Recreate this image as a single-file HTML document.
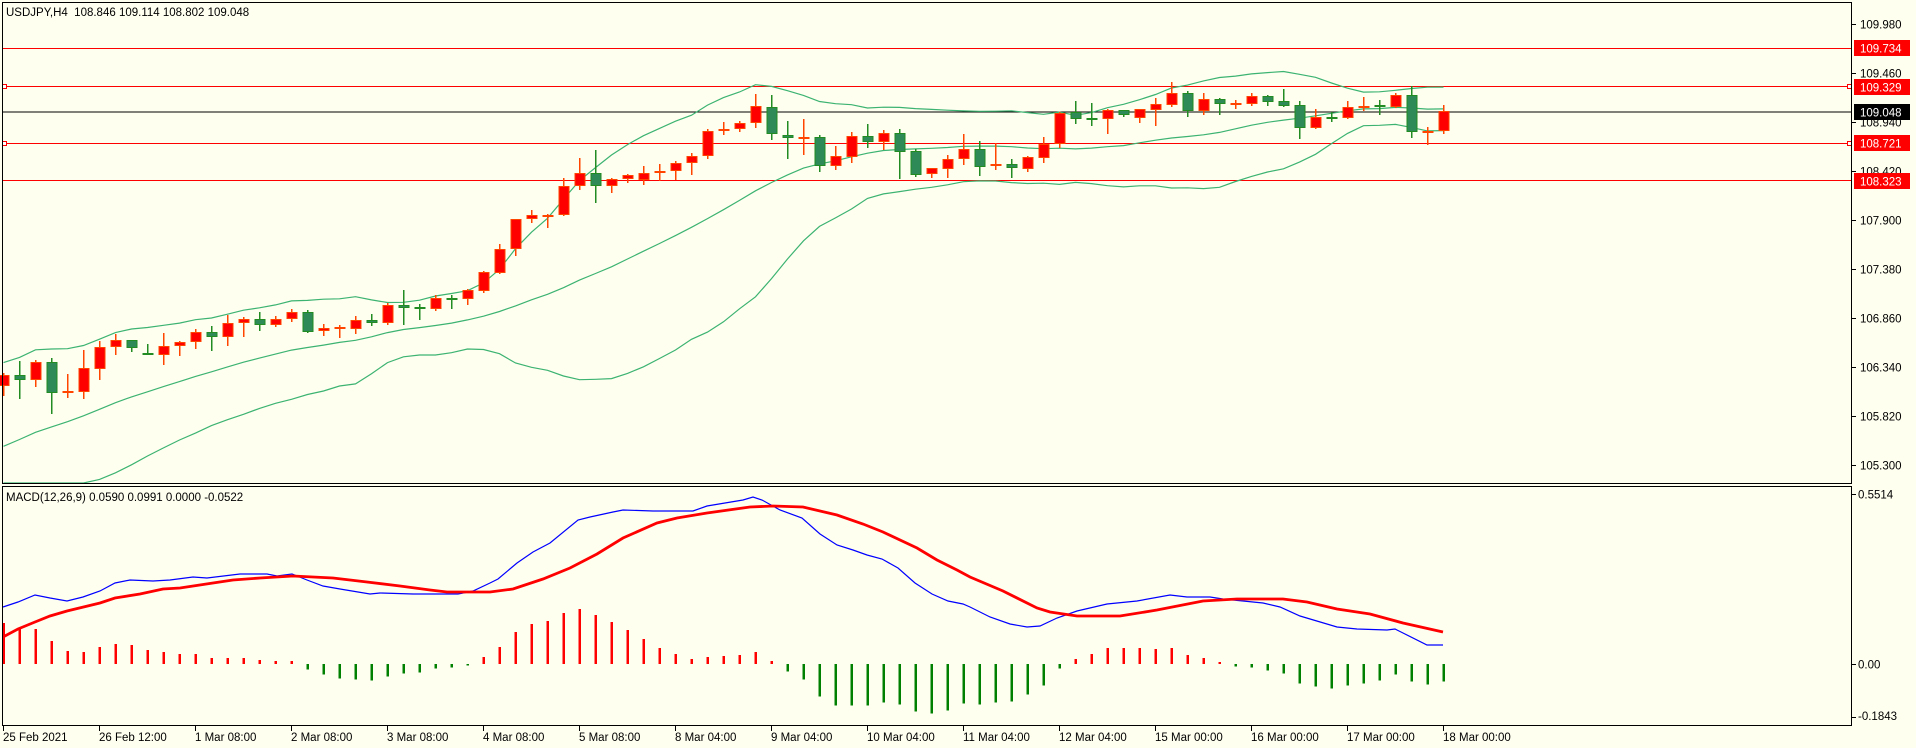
<!DOCTYPE html>
<html><head><meta charset="utf-8">
<style>
html,body{margin:0;padding:0;background:#FFFFF0;}
svg{display:block;}
text{font-family:"Liberation Sans",sans-serif;font-size:11.5px;fill:#000;}
</style></head>
<body>
<svg id="s" width="1916" height="748" xmlns="http://www.w3.org/2000/svg" shape-rendering="crispEdges">
<rect x="0" y="0" width="1916" height="748" fill="#FFFFF0"/>
<g id="hl">
<line x1="2" y1="48.5" x2="1852" y2="48.5" stroke="#FF0000" stroke-width="1.3"/>
<line x1="2" y1="86.5" x2="1852" y2="86.5" stroke="#FF0000" stroke-width="1.3"/>
<line x1="2" y1="112" x2="1852" y2="112" stroke="#000" stroke-width="1.3"/>
<line x1="2" y1="143.5" x2="1852" y2="143.5" stroke="#FF0000" stroke-width="1.3"/>
<line x1="2" y1="180.5" x2="1852" y2="180.5" stroke="#FF0000" stroke-width="1.3"/>
<rect x="2.5" y="84.5" width="4" height="4" fill="#fff" stroke="#FF0000"/>
<rect x="1847.5" y="84.5" width="4" height="4" fill="#fff" stroke="#FF0000"/>
<rect x="2.5" y="141.5" width="4" height="4" fill="#fff" stroke="#FF0000"/>
<rect x="1847.5" y="141.5" width="4" height="4" fill="#fff" stroke="#FF0000"/>
</g>
<g id="bb"></g>
<g id="cd"></g>
<g id="mc"></g>
<rect x="2.5" y="2.5" width="1849" height="481" fill="none" stroke="#000" stroke-width="1"/>
<rect x="2.5" y="486.5" width="1849" height="239" fill="none" stroke="#000" stroke-width="1"/>
<g stroke="#000">
<line x1="1852" y1="24.5" x2="1856" y2="24.5"/><line x1="1852" y1="73.5" x2="1856" y2="73.5"/>
<line x1="1852" y1="122.5" x2="1856" y2="122.5"/><line x1="1852" y1="171.5" x2="1856" y2="171.5"/>
<line x1="1852" y1="220.5" x2="1856" y2="220.5"/><line x1="1852" y1="269.5" x2="1856" y2="269.5"/>
<line x1="1852" y1="318.5" x2="1856" y2="318.5"/><line x1="1852" y1="367.5" x2="1856" y2="367.5"/>
<line x1="1852" y1="416.5" x2="1856" y2="416.5"/><line x1="1852" y1="465.5" x2="1856" y2="465.5"/>
<line x1="1852" y1="494.5" x2="1856" y2="494.5"/><line x1="1852" y1="664.5" x2="1856" y2="664.5"/>
<line x1="1852" y1="717.5" x2="1856" y2="717.5"/>
</g>
<g>
<text x="1860" y="28.5">109.980</text>
<text x="1860" y="77.5">109.460</text>
<text x="1860" y="126.5">108.940</text>
<text x="1860" y="175.5">108.420</text>
<text x="1860" y="224.5">107.900</text>
<text x="1860" y="273.5">107.380</text>
<text x="1860" y="322.5">106.860</text>
<text x="1860" y="371.5">106.340</text>
<text x="1860" y="420.5">105.820</text>
<text x="1860" y="469.5">105.300</text>
</g>
<rect x="1854" y="40" width="56" height="16" fill="#FF0000"/>
<text x="1860" y="52.5" style="fill:#fff">109.734</text>
<rect x="1854" y="79" width="56" height="16" fill="#FF0000"/>
<text x="1860" y="91.5" style="fill:#fff">109.329</text>
<rect x="1854" y="104" width="56" height="16" fill="#000"/>
<text x="1860" y="116.5" style="fill:#fff">109.048</text>
<rect x="1854" y="135" width="56" height="16" fill="#FF0000"/>
<text x="1860" y="147.5" style="fill:#fff">108.721</text>
<rect x="1854" y="173" width="56" height="16" fill="#FF0000"/>
<text x="1860" y="185.5" style="fill:#fff">108.323</text>
<text x="1858" y="498.5">0.5514</text>
<text x="1858" y="668.5">0.00</text>
<text x="1858" y="720">-0.1843</text>
<text x="6" y="16" xml:space="preserve">USDJPY,H4  108.846 109.114 108.802 109.048</text>
<text x="6" y="501">MACD(12,26,9) 0.0590 0.0991 0.0000 -0.0522</text>
<g id="tk" stroke="#000"></g>
<g>
<text x="3" y="741">25 Feb 2021</text>
<text x="99" y="741">26 Feb 12:00</text>
<text x="195" y="741">1 Mar 08:00</text>
<text x="291" y="741">2 Mar 08:00</text>
<text x="387" y="741">3 Mar 08:00</text>
<text x="483" y="741">4 Mar 08:00</text>
<text x="579" y="741">5 Mar 08:00</text>
<text x="675" y="741">8 Mar 04:00</text>
<text x="771" y="741">9 Mar 04:00</text>
<text x="867" y="741">10 Mar 04:00</text>
<text x="963" y="741">11 Mar 04:00</text>
<text x="1059" y="741">12 Mar 04:00</text>
<text x="1155" y="741">15 Mar 00:00</text>
<text x="1251" y="741">16 Mar 00:00</text>
<text x="1347" y="741">17 Mar 00:00</text>
<text x="1443" y="741">18 Mar 00:00</text>
</g>
</svg>
<script>
var NS="http://www.w3.org/2000/svg";
function el(p,t,a){var e=document.createElementNS(NS,t);for(var k in a)e.setAttribute(k,a[k]);p.appendChild(e);return e;}
var C=[
[373.3,375.3,386.3,395.7,1],[361,375.3,380.3,398.7,0],[360,362.3,380.3,386.7,1],[358,362.3,392.7,413.7,0],
[374,391,392.7,397.7,1],[350,368,391.7,398.7,1],[341,347.3,369.3,379.7,1],[334,340.3,347.3,354.7,1],
[340.3,340.3,348.3,351.7,0],[344,353,354.7,355.3,0],[333,346.3,354.7,364.7,1],[341.3,342.3,346.3,355.7,1],
[329,332.3,342.3,348.7,1],[326,332.3,337.3,350.7,0],[315,323.3,337.3,345.7,1],[317.3,319.3,323.3,336.7,1],
[312.3,319.3,324.7,330.7,0],[316.3,319.3,324.7,326.7,1],[309,312.3,319.3,322,1],[310,312.3,331.7,332.7,0],
[324.3,328.3,331.3,336,1],[325,327,328.7,337.7,1],[316,320.3,328.7,333.7,1],[314,320,322.7,326,0],
[302.7,305.3,322.7,325,1],[290,305.3,307.7,325,0],[304,307,308.7,320,0],[295.3,298.3,308.7,310.7,1],
[295,298,299.7,309,0],[289,290.3,299.3,305,1],[271,272.3,290.7,293,1],[244,249.3,273.3,274,1],
[219.3,219.3,249.3,255.7,1],[210,215.3,219.3,222.7,1],[214,214.7,216,227.7,1],[178,186.3,214.7,215.7,1],
[158,173.3,186.3,189.7,1],[150,173.3,186.3,202.7,0],[178.3,179.3,186.3,192.7,1],[174,175.3,179.3,182.7,1],
[166.3,173.3,180.3,185,1],[164,171.3,173.3,181.3,1],[161,163.3,171.3,180.3,1],[153,156.3,163.3,174.7,1],
[129.3,131.3,156.3,158.7,1],[122,129.3,131.3,134.7,1],[121.3,123.3,129.3,131.7,1],[94,106,123.3,127.7,1],
[95,107.3,134.3,140.3,0],[121,135.3,137.7,158.7,0],[119,137,137.7,154.7,1],[135,137.3,166,171.7,0],
[146,156.3,166.3,169.7,1],[132,136.3,156.7,162.7,1],[124,136,142,147.7,0],[130,133,142,150,1],
[129,133,151.7,179,0],[149.3,151,174.7,176.7,0],[168.3,168.3,174.3,177.7,1],[155,159.3,168.7,177.7,1],
[134,149,159.3,164.7,1],[141,149,166.7,176,0],[142.7,164.3,166.3,170,1],[159,164.3,167.7,177.7,0],
[155.7,157.3,168.7,171.7,1],[137,144,157.7,162.7,1],[111.7,113.3,144.3,147.7,1],[101.3,112.3,118.7,123.7,0],
[103,117.7,118.7,125.7,0],[109.3,110,118.7,133.7,1],[110,110,114.7,116.7,0],[108.7,109.3,117.7,123,1],
[98,104.3,109.7,125.7,1],[82.3,93.3,104.7,107,1],[91,93,111,116.7,0],[93,99,111,114.7,1],
[98,99,103.7,114.7,0],[100,103,103.7,109,1],[93.3,96,103.7,105.7,1],[95,96,101.7,105.7,0],
[89,101,105.7,106.7,0],[101,105,127.7,139,0],[109,117,127.7,128.7,1],[112,116.7,117.7,122,0],
[101,107.3,117.7,118.7,1],[97,106,107.3,111.3,1],[100,105.3,106.3,114.7,0],[93,95,107,107.7,1],
[85.7,95,131.7,137.7,0],[126.7,130.7,131.7,144.7,1],[105,111.3,130.7,134.3,1]];
function cx(i){return 3.5+16*i;}
var closes=[];for(var k=0;k<19;k++)closes.push(515-k*(130/18));
C.forEach(function(c){closes.push(c[4]?c[1]:c[2]);});
var up=[],md=[],lo=[];
for(var i=0;i<C.length;i++){var w=closes.slice(i,i+20);var m=w.reduce(function(a,b){return a+b},0)/20;
var v=w.reduce(function(a,b){return a+(b-m)*(b-m)},0)/20;var s=Math.sqrt(v);
up.push([cx(i),m-2*s]);md.push([cx(i),m]);lo.push([cx(i),m+2*s]);}
var bb=document.getElementById('bb');
[up,md,lo].forEach(function(p){el(bb,'polyline',{points:p.map(function(q){return q[0]+','+Math.min(483,q[1]).toFixed(1)}).join(' '),fill:'none',stroke:'#3CB371','stroke-width':1.2,'shape-rendering':'auto'});});
var cd=document.getElementById('cd');
C.forEach(function(c,i){var x=cx(i);var col=c[4]?'#FF4500':'#228B22';var fill=c[4]?'#FF0000':'#2E8B57';
el(cd,'line',{x1:x,y1:Math.round(c[0]),x2:x,y2:Math.round(c[3]),stroke:col,'stroke-width':1.5});
var t=Math.round(c[1]),b=Math.round(c[2]);if(b-t<2)b=t+2;
el(cd,'rect',{x:x-4.5,y:t+0.5,width:10,height:b-t-1,fill:fill,stroke:col,'stroke-width':1.3});});
var H=[623,628.3,629,641,651,652,647,644,645,650,652,654,654,658,658,658,660,661,661,669.7,674.7,678.7,679.7,680.7,676.7,673.7,672.7,668.7,667.7,664.5,657,647,
632,624,621,613,609,615,622,630,639,648,654,659,657,656,655,652,661,671.7,679.7,696.7,705.7,705.7,705.7,702.7,704.7,711.7,713.7,710.7,703.7,704.7,
702.7,701.7,694.7,685.7,668.7,659,654,648,648,648,649,648,655,658,662,666.7,667.7,670.7,673.7,683.7,686.7,688.7,685.7,683.7,680.7,674.7,681.7,684.7,681.7];
var Z=664,mc=document.getElementById('mc');
H.forEach(function(h,i){var x=cx(i)-1;var pos=h<=Z;var y=pos?h:Z,hh=Math.max(1.5,Math.abs(h-Z));
el(mc,'rect',{x:x,y:y,width:2.5,height:hh,fill:pos?'#FF0000':'#008000'});});
var BL=[[3,607],[18,602],[35,595],[50,598],[67,601],[83,597],[100,591],[115,583],[130,580],[153,581],[170,580],[193,577],[207,578],[240,574],[267,574],[277,576],[292,574],[307,580],[323,586],[340,589],[370,594],[380,593],[413,594],[458,594],[473,591],[490,583],[498,579],[517,563],[533,552],[550,543],[578,520],[590,517],[613,512],[623,510],[653,511],[693,511],[707,506],[743,500],[753,497],[762,500],[780,510],[802,518],[820,534],[837,545],[853,550],[867,555],[882,559],[898,568],[915,583],[932,594],[948,601],[963,604],[970,607],[990,617],[1010,624],[1027,627],[1040,626],[1057,618],[1077,611],[1107,604],[1137,601],[1170,595],[1187,597],[1210,597],[1223,599],[1263,603],[1280,607],[1300,616],[1337,627],[1357,629],[1387,630],[1395,629],[1403,633],[1427,645],[1443,645]];
var SG=[[3,637],[18,629],[35,622],[50,616],[67,611],[100,603],[115,598],[140,594],[163,589],[180,588],[213,583],[233,580],[260,578],[293,576],[333,578],[367,582],[400,586],[430,590],[447,592],[490,592],[513,589],[543,579],[570,568],[597,554],[623,538],[657,523],[677,518],[707,513],[750,507],[773,506],[803,507],[837,515],[863,524],[883,532],[917,548],[937,560],[957,570],[970,577],[1003,591],[1037,608],[1050,612],[1077,616],[1120,616],[1157,610],[1203,601],[1237,599],[1283,599],[1307,602],[1337,609],[1370,614],[1403,623],[1443,632]];
el(mc,'polyline',{points:BL.join(' '),fill:'none',stroke:'#0000FF','stroke-width':1.2,'shape-rendering':'auto'});
el(mc,'polyline',{points:SG.join(' '),fill:'none',stroke:'#FF0000','stroke-width':2.8,'shape-rendering':'auto'});
var tk=document.getElementById('tk');
for(var k=0;k<16;k++){var x=3.5+96*k;el(tk,'line',{x1:x,y1:726,x2:x,y2:731});}
</script>
</body></html>
